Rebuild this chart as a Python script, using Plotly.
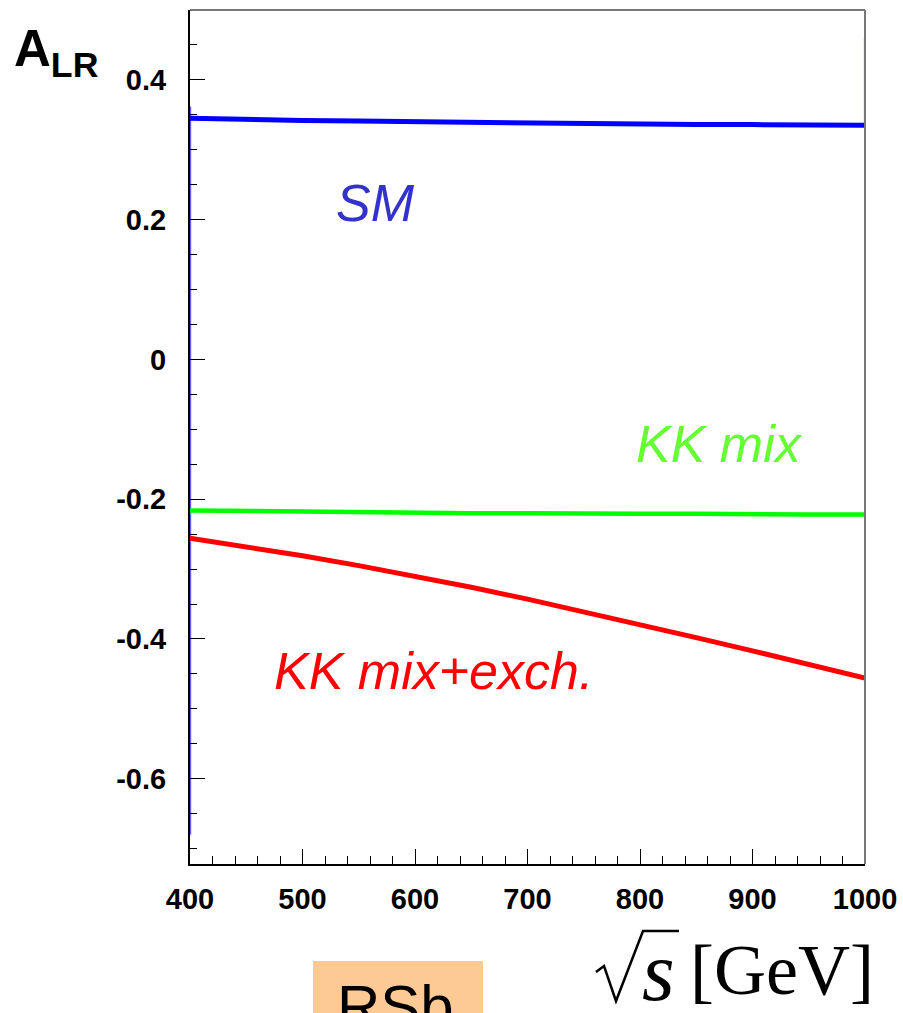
import plotly.graph_objects as go

# ---- data ----
sqrt_s = [400, 450, 500, 550, 600, 650, 700, 750, 800, 850, 900, 950, 1000]
a_lr_sm = [0.345, 0.343, 0.342, 0.341, 0.340, 0.339, 0.338, 0.338, 0.337, 0.336, 0.336, 0.335, 0.335]
a_lr_kk_mix = [-0.216, -0.217, -0.218, -0.219, -0.219, -0.220, -0.220, -0.221, -0.221, -0.221, -0.222, -0.222, -0.222]
a_lr_kk_mix_exch = [-0.256, -0.268, -0.281, -0.295, -0.310, -0.326, -0.343, -0.361, -0.380, -0.398, -0.417, -0.436, -0.456]

# thin edge spikes of the SM curve at the range limits
sm_edge_left_x = [400.4, 400.4]
sm_edge_left_y = [0.362, -0.68]
sm_edge_right_x = [999.7, 999.7]
sm_edge_right_y = [0.335, 0.459]

x_tick_vals = [400, 500, 600, 700, 800, 900, 1000]
x_tick_text = ["400", "500", "600", "700", "800", "900", "1000"]
y_tick_vals = [-0.6, -0.4, -0.2, 0, 0.2, 0.4]
y_tick_text = ["-0.6", "-0.4", "-0.2", "0", "0.2", "0.4"]

# ---- layout geometry (pixels) ----
W, H = 903, 1013
L, R, T, B = 190, 865, 10, 864
PW, PH = R - L, B - T


def px(x):
    return (x - L) / PW


def py(y):
    return (B - y) / PH


SANS = "Liberation Sans, Arial, Helvetica, sans-serif"
SERIF = "Liberation Serif, Times New Roman, DejaVu Serif, serif"

fig = go.Figure()
fig.add_trace(go.Scatter(x=sm_edge_left_x, y=sm_edge_left_y, mode="lines",
                         line=dict(color="rgba(40,40,255,0.75)", width=1.5), showlegend=False))
fig.add_trace(go.Scatter(x=sm_edge_right_x, y=sm_edge_right_y, mode="lines",
                         line=dict(color="rgba(40,40,255,0.9)", width=1.5), showlegend=False))
fig.add_trace(go.Scatter(x=sqrt_s, y=a_lr_sm, mode="lines", name="SM",
                         line=dict(color="#0000ff", width=5), showlegend=False))
fig.add_trace(go.Scatter(x=sqrt_s, y=a_lr_kk_mix, mode="lines", name="KK mix",
                         line=dict(color="#00ff00", width=4.5), showlegend=False))
fig.add_trace(go.Scatter(x=sqrt_s, y=a_lr_kk_mix_exch, mode="lines", name="KK mix+exch.",
                         line=dict(color="#ff0000", width=5), showlegend=False))

fig.update_layout(
    width=W, height=H,
    margin=dict(l=L, r=W - R, t=T, b=H - B, pad=0, autoexpand=False),
    paper_bgcolor="white", plot_bgcolor="white",
    xaxis=dict(range=[400, 1000], tickvals=x_tick_vals, ticktext=x_tick_text, automargin=False,
               ticks="inside", ticklen=15, tickwidth=1.2, tickcolor="#000",
               showline=True, linecolor="#000", linewidth=2, showgrid=False, zeroline=False,
               minor=dict(dtick=20, ticks="inside", ticklen=8, tickwidth=1.2, tickcolor="#000", showgrid=False),
               tickfont=dict(family=SANS, size=29, color="#000", weight="bold"),
               ticklabelstandoff=8),
    yaxis=dict(range=[-0.722, 0.5], tickvals=y_tick_vals, ticktext=y_tick_text, automargin=False,
               ticks="inside", ticklen=15, tickwidth=1.2, tickcolor="#000",
               showline=True, linecolor="#000", linewidth=2, showgrid=False, zeroline=False,
               minor=dict(dtick=0.05, ticks="inside", ticklen=7, tickwidth=1.2, tickcolor="#000", showgrid=False),
               tickfont=dict(family=SANS, size=29, color="#000", weight="bold"),
               ticklabelstandoff=16),
)

# top and right frame lines (grey)
fig.add_shape(type="line", xref="paper", yref="paper", x0=0, x1=1, y0=1, y1=1,
              line=dict(color="#777", width=2))
fig.add_shape(type="line", xref="paper", yref="paper", x0=1, x1=1, y0=0, y1=1,
              line=dict(color="#777", width=2))

# curve labels
fig.add_annotation(x=px(334), y=py(203), xref="paper", yref="paper", xanchor="left", yanchor="middle",
                   text="<i>SM</i>", showarrow=False, font=dict(family=SANS, size=52, color="#3333cc"))
fig.add_annotation(x=px(634), y=py(444), xref="paper", yref="paper", xanchor="left", yanchor="middle",
                   text="<i>KK mix</i>", showarrow=False, font=dict(family=SANS, size=52, color="#66ff33"))
fig.add_annotation(x=px(272), y=py(671), xref="paper", yref="paper", xanchor="left", yanchor="middle",
                   text="<i>KK mix+exch.</i>", showarrow=False, font=dict(family=SANS, size=52, color="#ff0000"))

# y axis title A_LR
fig.add_annotation(x=px(12), y=py(52), xref="paper", yref="paper", xanchor="left", yanchor="middle",
                   text="<b>A<sub>LR</sub></b>", showarrow=False, font=dict(family=SANS, size=51, color="#000"))

# x axis title: sqrt(s) [GeV]  (radical drawn as a path)
fig.add_shape(type="path", xref="paper", yref="paper",
              path="M {:.5f} {:.5f} L {:.5f} {:.5f} L {:.5f} {:.5f} L {:.5f} {:.5f} L {:.5f} {:.5f}".format(
                  px(596), py(972), px(604), py(966), px(616), py(1001), px(643), py(931), px(679), py(931)),
              line=dict(color="#000", width=2.5))
fig.add_annotation(x=px(640), y=py(972), xref="paper", yref="paper", xanchor="left", yanchor="middle",
                   text="<i>s</i>", showarrow=False, font=dict(family=SERIF, size=84, color="#000"))
fig.add_annotation(x=px(688), y=py(970), xref="paper", yref="paper", xanchor="left", yanchor="middle",
                   text="[GeV]", showarrow=False, font=dict(family=SERIF, size=72, color="#000"))

# RSb tag (cut by the page edge)
fig.add_shape(type="rect", xref="paper", yref="paper", x0=px(313), x1=px(483), y0=py(1030), y1=py(961),
              fillcolor="#fdca96", line=dict(width=0), layer="below")
fig.add_annotation(x=px(335), y=py(1006), xref="paper", yref="paper", xanchor="left", yanchor="middle",
                   text="RSb", showarrow=False, font=dict(family=SANS, size=60, color="#000"))

fig.write_html("out.html", config={"displayModeBar": False},
               post_script="document.body.style.margin='0px';document.body.style.padding='0px';")
